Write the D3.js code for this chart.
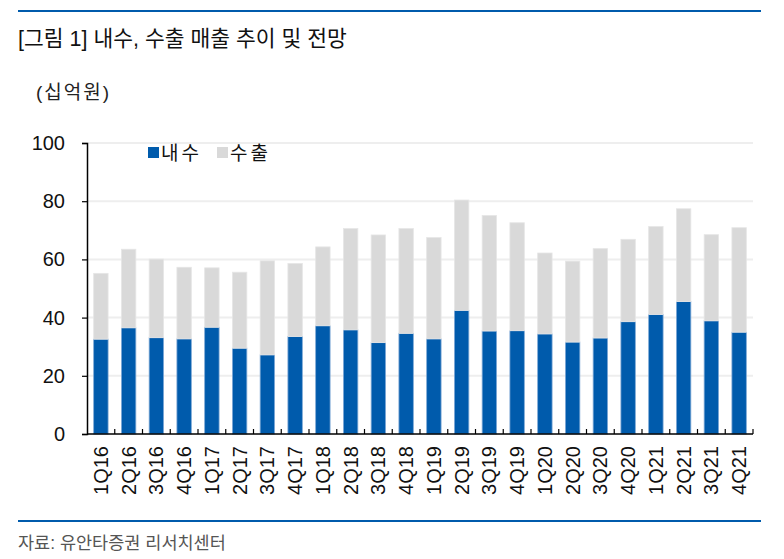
<!DOCTYPE html>
<html>
<head>
<meta charset="utf-8">
<script src="https://cdn.jsdelivr.net/npm/d3@7"></script>
<style>
    body { margin: 0; background: #fff; }
    svg { font-family: "Liberation Sans", Arial, "Noto Sans CJK KR", sans-serif; }
</style>
</head>
<body>
<div id="viz"></div>
<script>
// 분기 (x축)
const quarters = ["1Q16", "2Q16", "3Q16", "4Q16", "1Q17", "2Q17", "3Q17", "4Q17",
    "1Q18", "2Q18", "3Q18", "4Q18", "1Q19", "2Q19", "3Q19", "4Q19",
    "1Q20", "2Q20", "3Q20", "4Q20", "1Q21", "2Q21", "3Q21", "4Q21"];
// 내수 (십억원)
const domestic = [32.6, 36.5, 33.1, 32.7, 36.7, 29.5, 27.2, 33.5,
    37.2, 35.8, 31.4, 34.6, 32.7, 42.5, 35.4, 35.5,
    34.4, 31.6, 33.0, 38.6, 41.1, 45.5, 38.9, 35.0];
// 수출 (십억원)
const exports_ = [22.6, 27.0, 27.0, 24.6, 20.4, 26.1, 32.3, 25.1,
    27.1, 34.8, 37.0, 36.0, 34.8, 37.9, 39.7, 37.1,
    27.8, 27.8, 30.7, 28.3, 30.2, 31.9, 29.6, 35.9];
const yTicks = [0, 20, 40, 60, 80, 100];
const seriesNames = ["내수", "수출"];

const W = 784, H = 559;
const margin = { left: 87, right: 31, top: 143, bottom: 125 };
const innerW = W - margin.left - margin.right;
const innerH = H - margin.top - margin.bottom;

const svg = d3.select("#viz").append("svg").attr("width", W).attr("height", H);

// 상단/하단 라인
svg.append("line").attr("x1", 18).attr("x2", 761).attr("y1", 11).attr("y2", 11)
    .attr("stroke", "#005bac").attr("stroke-width", 2);
svg.append("line").attr("x1", 18).attr("x2", 761).attr("y1", 521).attr("y2", 521)
    .attr("stroke", "#005bac").attr("stroke-width", 2);

svg.append("text").attr("x", 18).attr("y", 46)
    .attr("font-size", 21.5).attr("fill", "#111")
    .text("[그림 1] 내수, 수출 매출 추이 및 전망");
svg.append("text").attr("x", 36).attr("y", 99)
    .attr("font-size", 19).attr("fill", "#222").attr("letter-spacing", 2)
    .text("(십억원)");
svg.append("text").attr("x", 18).attr("y", 549)
    .attr("font-size", 17.5).attr("fill", "#555")
    .text("자료: 유안타증권 리서치센터");

const g = svg.append("g").attr("transform", `translate(${margin.left},${margin.top})`);

const data = quarters.map((q, i) => ({ name: q, 내수: domestic[i], 수출: exports_[i] }));
const stack = d3.stack().keys(seriesNames)(data);

const x = d3.scaleBand().domain(quarters).range([0, innerW]).paddingInner(0.48).paddingOuter(0.24);
const y = d3.scaleLinear().domain([0, 100]).range([innerH, 0]);
const color = d3.scaleOrdinal().domain(seriesNames).range(["#005bac", "#d9d9d9"]);
const edge = d3.scaleOrdinal().domain(seriesNames).range(["#7fa9d6", "#e6e6e6"]);

// 그리드
g.selectAll(".grid").data(yTicks.filter(d => d > 0)).join("line")
    .attr("x1", 0).attr("x2", innerW)
    .attr("y1", d => y(d)).attr("y2", d => y(d))
    .attr("stroke", "#eeeeee").attr("stroke-width", 2);

g.selectAll(".series").data(stack).join("g")
    .attr("fill", d => color(d.key))
    .attr("stroke", d => edge(d.key))
    .attr("stroke-width", 0.8)
    .selectAll("rect").data(d => d).join("rect")
    .attr("x", d => x(d.data.name))
    .attr("y", d => y(d[1]))
    .attr("width", x.bandwidth())
    .attr("height", d => y(d[0]) - y(d[1]));

// y축
const yAxis = g.append("g")
    .call(d3.axisLeft(y).tickValues(yTicks).tickSize(5).tickPadding(17));
yAxis.select(".domain").attr("stroke", "#000").attr("stroke-width", 1.5);
yAxis.selectAll(".tick line").attr("stroke", "#000").attr("stroke-width", 1.2);
yAxis.selectAll("text").attr("font-size", 20).attr("fill", "#111")
    .attr("font-family", "'Liberation Sans', Arial, sans-serif");

// x축: 밴드 경계에 안쪽 눈금
const step = x.step();
const xg = g.append("g").attr("transform", `translate(0,${innerH})`);
xg.append("line").attr("x1", 0).attr("x2", innerW).attr("stroke", "#000").attr("stroke-width", 1.5);
xg.selectAll(".xt").data(d3.range(1, quarters.length + 1)).join("line")
    .attr("x1", d => d * step).attr("x2", d => d * step)
    .attr("y1", 0).attr("y2", -5)
    .attr("stroke", "#000").attr("stroke-width", 1.2);
xg.selectAll(".xl").data(quarters).join("text")
    .attr("transform", d => `translate(${x(d) + x.bandwidth() / 2 + 7},12) rotate(-90)`)
    .attr("text-anchor", "end")
    .attr("font-size", 20).attr("fill", "#111")
    .text(d => d);

// 범례
const legend = svg.append("g").attr("transform", "translate(148,146)");
const lx = [0, 69];
legend.selectAll("rect").data(seriesNames).join("rect")
    .attr("x", (d, i) => lx[i]).attr("y", 1)
    .attr("width", 11).attr("height", 11)
    .attr("fill", d => color(d));
legend.selectAll("text").data(seriesNames).join("text")
    .attr("x", (d, i) => lx[i] + 13).attr("y", 14)
    .attr("font-size", 19).attr("fill", "#111").attr("letter-spacing", 3)
    .text(d => d);
</script>
</body>
</html>
